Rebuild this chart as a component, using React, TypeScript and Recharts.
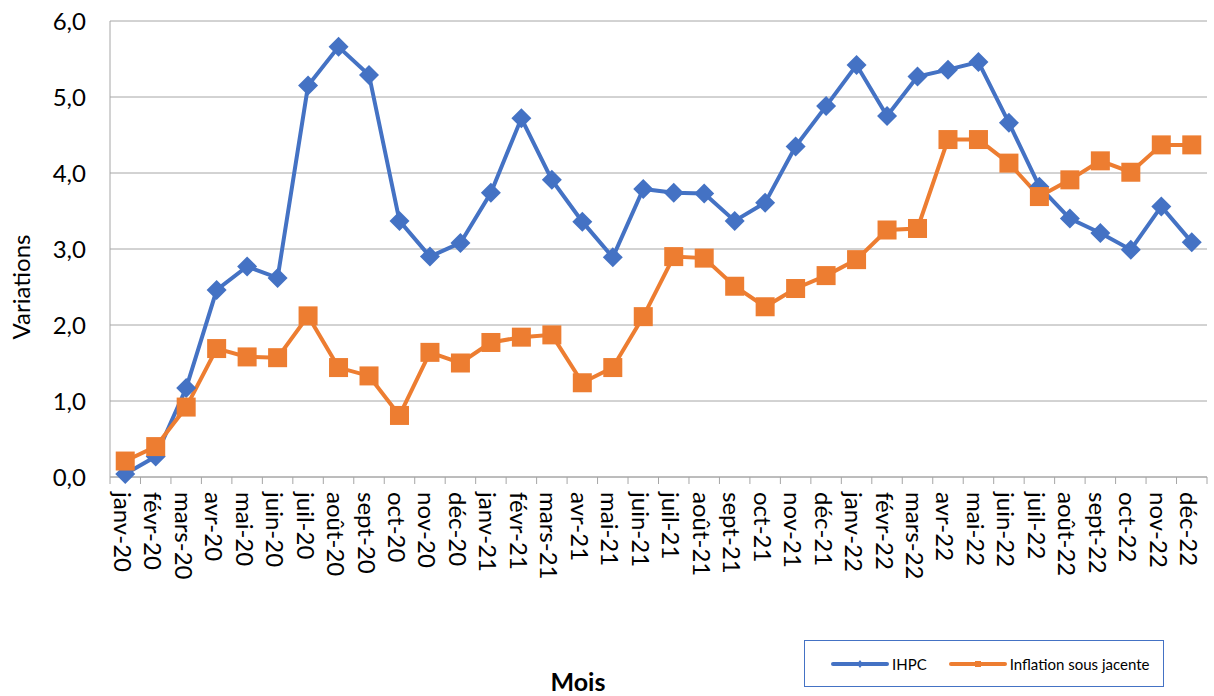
import { CartesianGrid, Label, Legend, Line, LineChart, XAxis, YAxis } from "recharts";

const months = [
  "janv-20", "févr-20", "mars-20", "avr-20", "mai-20", "juin-20",
  "juil-20", "août-20", "sept-20", "oct-20", "nov-20", "déc-20",
  "janv-21", "févr-21", "mars-21", "avr-21", "mai-21", "juin-21",
  "juil-21", "août-21", "sept-21", "oct-21", "nov-21", "déc-21",
  "janv-22", "févr-22", "mars-22", "avr-22", "mai-22", "juin-22",
  "juil-22", "août-22", "sept-22", "oct-22", "nov-22", "déc-22",
];

const ihpc = [
  0.04, 0.27, 1.17, 2.46, 2.77, 2.62, 5.15, 5.66, 5.29, 3.37, 2.9, 3.08,
  3.74, 4.72, 3.91, 3.36, 2.89, 3.79, 3.74, 3.73, 3.37, 3.61, 4.35, 4.88,
  5.42, 4.75, 5.27, 5.36, 5.46, 4.66, 3.82, 3.4, 3.21, 2.99, 3.56, 3.09,
];

const inflationSousJacente = [
  0.21, 0.4, 0.92, 1.69, 1.58, 1.57, 2.12, 1.44, 1.33, 0.81, 1.64, 1.5,
  1.77, 1.84, 1.87, 1.24, 1.44, 2.11, 2.9, 2.88, 2.51, 2.24, 2.48, 2.65,
  2.86, 3.25, 3.27, 4.44, 4.44, 4.13, 3.69, 3.91, 4.16, 4.01, 4.37, 4.37,
];

const yTicks = [0, 1, 2, 3, 4, 5, 6];

const data = months.map((month, i) => ({
  i,
  month,
  ihpc: ihpc[i],
  core: inflationSousJacente[i],
}));

const W = 1214;
const H = 696;
const LEFT = 110;
const RIGHT = 7;
const STEP = (W - LEFT - RIGHT) / months.length;
const FONT = "Lato, Carlito, 'DejaVu Sans', sans-serif";
const BLUE = "#4472C4";
const ORANGE = "#ED7D31";
const GRID = "#A6A6A6";

function MonthTick(props: any) {
  const { x, y, payload, index } = props;
  const half = STEP / 2;
  const last = index === months.length - 1;
  return (
    <g>
      <line x1={x - half} x2={x - half} y1={y} y2={y + 7} stroke={GRID} strokeWidth={1} />
      {last && <line x1={x + half} x2={x + half} y1={y} y2={y + 7} stroke={GRID} strokeWidth={1} />}
      <text
        transform={`translate(${x - 2}, ${y + 15}) rotate(90)`}
        textAnchor="start"
        dominantBaseline="central"
        fontFamily={FONT}
        fontSize={24}
        fill="#000"
      >
        {months[payload.value]}
      </text>
    </g>
  );
}

function Diamond(props: any) {
  const { cx, cy } = props;
  if (cx == null || cy == null) return null;
  const r = 10;
  return (
    <polygon
      points={`${cx},${cy - r} ${cx + r},${cy} ${cx},${cy + r} ${cx - r},${cy}`}
      fill={BLUE}
    />
  );
}

function Square(props: any) {
  const { cx, cy } = props;
  if (cx == null || cy == null) return null;
  const s = 19;
  return <rect x={cx - s / 2} y={cy - s / 2} width={s} height={s} fill={ORANGE} />;
}

function LegendBox() {
  return (
    <div
      style={{
        display: "flex",
        alignItems: "center",
        height: "100%",
        paddingLeft: 26,
        fontFamily: FONT,
        fontSize: 15,
        color: "#000",
        whiteSpace: "nowrap",
      }}
    >
      <svg width={58} height={12} style={{ marginRight: 3, flexShrink: 0 }}>
        <line x1={2} x2={56} y1={6} y2={6} stroke={BLUE} strokeWidth={4} strokeLinecap="round" />
        <polygon points="29,2 32,6 29,10 26,6" fill={BLUE} />
      </svg>
      <span style={{ marginRight: 22 }}>IHPC</span>
      <svg width={58} height={12} style={{ marginRight: 3, flexShrink: 0 }}>
        <line x1={2} x2={56} y1={6} y2={6} stroke={ORANGE} strokeWidth={4} strokeLinecap="round" />
        <rect x={26} y={3} width={6} height={6} fill={ORANGE} />
      </svg>
      <span>Inflation sous jacente</span>
    </div>
  );
}

export default function App() {
  return (
    <div style={{ position: "absolute", left: 0, top: 0, width: W, height: H, background: "#fff" }}>
      <LineChart
        width={W}
        height={H}
        data={data}
        margin={{ top: 21, right: RIGHT, bottom: 0, left: 0 }}
      >
        <CartesianGrid stroke={GRID} strokeWidth={1} vertical={false} />
        <XAxis
          type="number"
          dataKey="i"
          domain={[-0.5, months.length - 0.5]}
          ticks={months.map((_, i) => i)}
          interval={0}
          height={H - 21 - 456}
          axisLine={{ stroke: GRID, strokeWidth: 1 }}
          tickLine={false}
          tickSize={0}
          tickMargin={0}
          tick={<MonthTick />}
        >
          <Label
            content={() => (
              <text
                x={578}
                y={681}
                textAnchor="middle"
                dominantBaseline="central"
                fontFamily={FONT}
                fontSize={25}
                fontWeight="bold"
                fill="#000"
              >
                Mois
              </text>
            )}
          />
        </XAxis>
        <YAxis
          type="number"
          domain={[0, 6]}
          ticks={yTicks}
          width={LEFT}
          axisLine={{ stroke: GRID, strokeWidth: 1 }}
          tickLine={false}
          tickSize={0}
          tickMargin={24}
          tickFormatter={(v: number) => v.toFixed(1).replace(".", ",")}
          tick={{ fill: "#000", fontSize: 24, fontFamily: FONT }}
        >
          <Label
            content={() => (
              <text
                transform="translate(20, 287) rotate(-90)"
                textAnchor="middle"
                dominantBaseline="central"
                fontFamily={FONT}
                fontSize={24}
                fill="#000"
              >
                Variations
              </text>
            )}
          />
        </YAxis>
        <Legend
          layout="horizontal"
          verticalAlign="middle"
          align="center"
          wrapperStyle={{
            left: 804,
            top: 640,
            width: 360,
            height: 47,
            border: `1.5px solid ${BLUE}`,
            boxSizing: "border-box",
            background: "#fff",
          }}
          content={() => <LegendBox />}
        />
        <Line
          type="linear"
          dataKey="ihpc"
          name="IHPC"
          stroke={BLUE}
          strokeWidth={4}
          dot={<Diamond />}
          activeDot={false}
          isAnimationActive={false}
        />
        <Line
          type="linear"
          dataKey="core"
          name="Inflation sous jacente"
          stroke={ORANGE}
          strokeWidth={4}
          dot={<Square />}
          activeDot={false}
          isAnimationActive={false}
        />
      </LineChart>
    </div>
  );
}
